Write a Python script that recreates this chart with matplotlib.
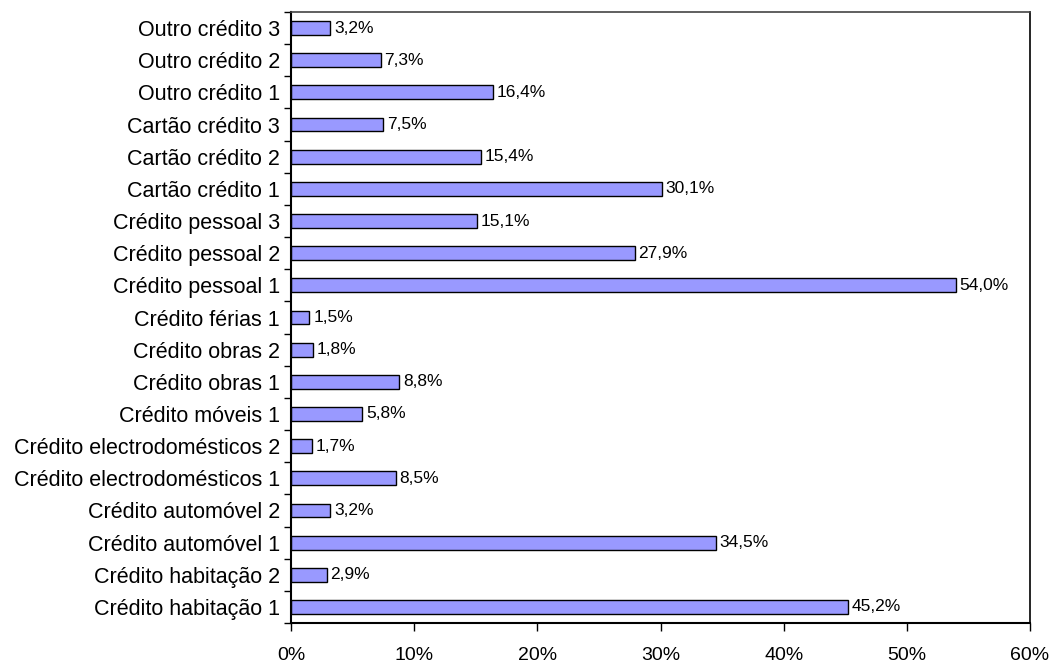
import matplotlib
matplotlib.use('Agg')
import matplotlib.pyplot as plt
import numpy as np

plt.rcParams['font.family'] = ['Liberation Sans', 'DejaVu Sans']

# dados (de baixo para cima)
categorias = ['Crédito habitação 1', 'Crédito habitação 2', 'Crédito automóvel 1',
              'Crédito automóvel 2', 'Crédito electrodomésticos 1', 'Crédito electrodomésticos 2',
              'Crédito móveis 1', 'Crédito obras 1', 'Crédito obras 2', 'Crédito férias 1',
              'Crédito pessoal 1', 'Crédito pessoal 2', 'Crédito pessoal 3',
              'Cartão crédito 1', 'Cartão crédito 2', 'Cartão crédito 3',
              'Outro crédito 1', 'Outro crédito 2', 'Outro crédito 3']
valores = [45.2, 2.9, 34.5, 3.2, 8.5, 1.7, 5.8, 8.8, 1.8, 1.5,
           54.0, 27.9, 15.1, 30.1, 15.4, 7.5, 16.4, 7.3, 3.2]
ticks_x = [0, 10, 20, 30, 40, 50, 60]

fig = plt.figure(figsize=(10.51, 6.68), dpi=100)
ax = fig.add_axes([291 / 1051, 1 - 623 / 668, (1030 - 291) / 1051, (623 - 12) / 668])

y = np.arange(len(categorias))
ax.barh(y, valores, height=0.43, color='#9999FF', edgecolor='black', linewidth=1)

for yi, v in zip(y, valores):
    ax.text(v + 0.3, yi, f'{v:.1f}%'.replace('.', ','), va='center', ha='left', fontsize=12.5)

ax.set_xlim(0, 60)
ax.set_ylim(-0.5, len(categorias) - 0.5)
ax.set_xticks(ticks_x)
ax.set_xticklabels([f'{t}%' for t in ticks_x], fontsize=14)
ax.tick_params(axis='x', direction='out', length=6, width=1, pad=11)

# rótulos das categorias no centro, marcas entre categorias
ax.set_yticks(y)
ax.set_yticklabels(categorias, fontsize=15.5)
ax.tick_params(axis='y', which='major', length=0, pad=8)
ax.set_yticks(np.arange(-0.5, len(categorias), 1), minor=True)
ax.tick_params(axis='y', which='minor', direction='out', length=5, width=1)

ax.spines['left'].set_linewidth(1.5)
ax.spines['bottom'].set_linewidth(1.5)
ax.spines['right'].set_linewidth(1.2)
ax.spines['top'].set_linewidth(1.2)
ax.spines['top'].set_color('#444444')

fig.savefig('out.png', dpi=100)
